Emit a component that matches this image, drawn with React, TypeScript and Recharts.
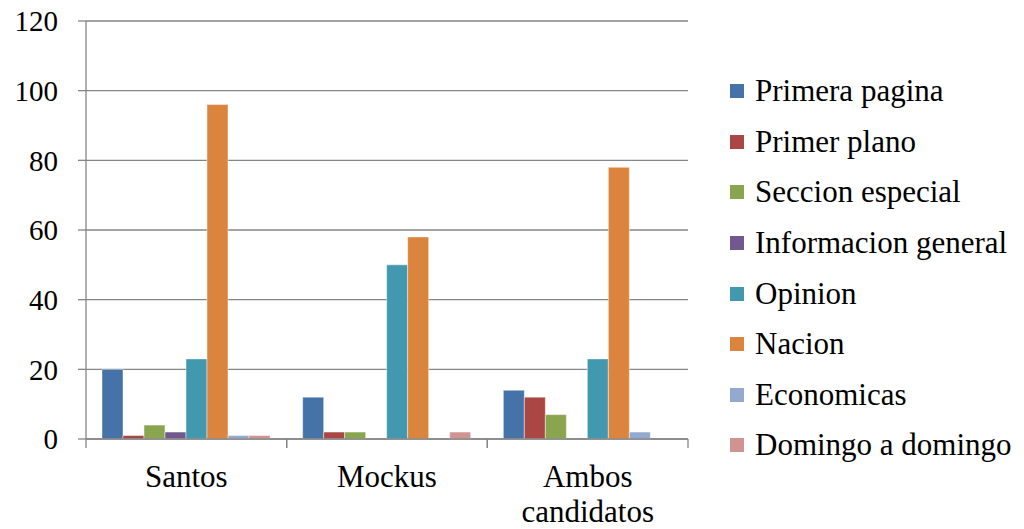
import { Bar, BarChart, CartesianGrid, XAxis, YAxis } from 'recharts'

const categories = ['Santos', 'Mockus', 'Ambos candidatos']

const primeraPagina = [20, 12, 14]
const primerPlano = [1, 2, 12]
const seccionEspecial = [4, 2, 7]
const informacionGeneral = [2, 0, 0]
const opinion = [23, 50, 23]
const nacion = [96, 58, 78]
const economicas = [1, 0, 2]
const domingoADomingo = [1, 2, 0]

const yTicks = [0, 20, 40, 60, 80, 100, 120]

const SERIES = [
  { key: 'Primera pagina', values: primeraPagina, color: '#4572A7' },
  { key: 'Primer plano', values: primerPlano, color: '#AA4643' },
  { key: 'Seccion especial', values: seccionEspecial, color: '#89A54E' },
  { key: 'Informacion general', values: informacionGeneral, color: '#71588F' },
  { key: 'Opinion', values: opinion, color: '#4198AF' },
  { key: 'Nacion', values: nacion, color: '#DB843D' },
  { key: 'Economicas', values: economicas, color: '#93A9CF' },
  { key: 'Domingo a domingo', values: domingoADomingo, color: '#D19392' },
]

const FONT = '"Liberation Serif", "Times New Roman", "DejaVu Serif", serif'
const GRID = '#868686'

const data = categories.map((c, i) => {
  const row: Record<string, string | number> = { name: c }
  SERIES.forEach(s => { row[s.key] = s.values[i] })
  return row
})

type TickProps = { x?: number; y?: number; payload?: { value: string; offset?: number } }

// category label plus tick marks on the band edges (Excel style)
function CategoryTick({ x = 0, y = 0, payload }: TickProps) {
  const label = payload?.value ?? ''
  const half = payload?.offset ?? 0
  const lines = label.length > 10 ? label.split(' ') : [label]
  return (
    <g>
      <line x1={x - half} x2={x - half} y1={y} y2={y + 9} stroke={GRID} strokeWidth={1.3} />
      <line x1={x + half} x2={x + half} y1={y} y2={y + 9} stroke={GRID} strokeWidth={1.3} />
      <text x={x} y={y} textAnchor="middle" fill="#000" style={{ fontFamily: FONT, fontSize: 31 }}>
        {lines.map((l, i) => (
          <tspan key={i} x={x} dy={i === 0 ? 48 : 35}>{l}</tspan>
        ))}
      </text>
    </g>
  )
}

function LegendBox() {
  return (
    <div style={{ position: 'absolute', left: 730, top: 66, fontFamily: FONT, fontSize: 31, color: '#000' }}>
      {SERIES.map(s => (
        <div key={s.key} style={{ display: 'flex', alignItems: 'center', height: 50.6, whiteSpace: 'nowrap' }}>
          <span style={{ width: 14, height: 14, background: s.color, marginRight: 11, display: 'inline-block' }} />
          <span>{s.key}</span>
        </div>
      ))}
    </div>
  )
}

export default function App() {
  return (
    <div style={{ position: 'absolute', left: 0, top: 0, width: 1024, height: 529, background: '#fff', fontFamily: FONT }}>
      <BarChart
        width={1024}
        height={529}
        data={data}
        margin={{ top: 21, right: 336, left: 0, bottom: 0 }}
        barCategoryGap={16}
        barGap={0}
      >
        <CartesianGrid vertical={false} stroke={GRID} strokeWidth={1.3} />
        <XAxis
          dataKey="name"
          height={90}
          axisLine={{ stroke: GRID, strokeWidth: 1.3 }}
          tickLine={false}
          tickSize={0}
          tickMargin={0}
          interval={0}
          tick={<CategoryTick />}
        />
        <YAxis
          width={86}
          domain={[0, 120]}
          ticks={yTicks}
          tickSize={8}
          tickMargin={20}
          axisLine={{ stroke: GRID, strokeWidth: 1.3 }}
          tickLine={{ stroke: GRID, strokeWidth: 1.3 }}
          tick={{ fill: '#000', fontSize: 29, style: { fontFamily: FONT } }}
        />
        {SERIES.map(s => (
          <Bar
            key={s.key}
            dataKey={s.key}
            fill={s.color}
            stroke="rgba(255,255,255,0.45)"
            strokeWidth={1}
            isAnimationActive={false}
          />
        ))}
      </BarChart>
      <LegendBox />
    </div>
  )
}
